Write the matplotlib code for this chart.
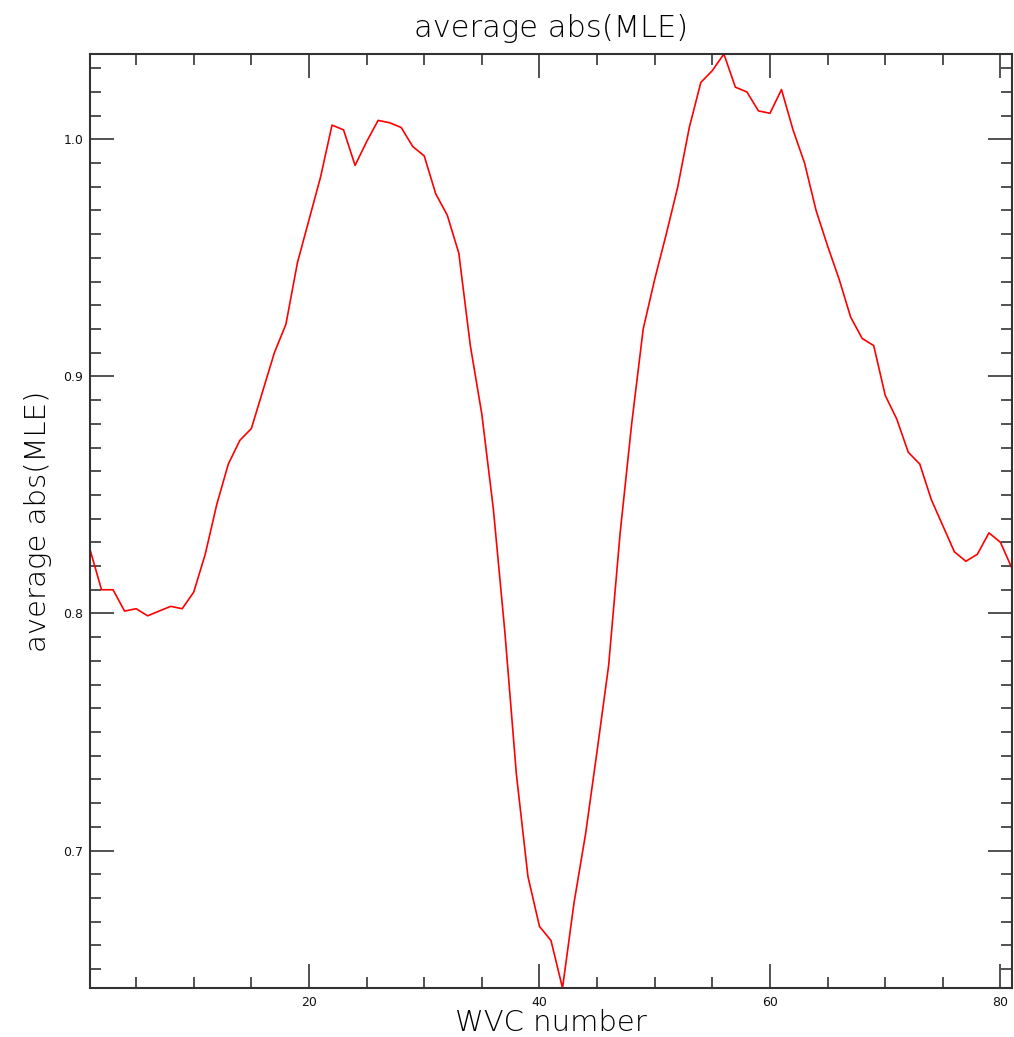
import matplotlib
matplotlib.use("Agg")
import matplotlib.pyplot as plt
from matplotlib.ticker import MultipleLocator, FixedLocator
import numpy as np

wvc = list(range(1, 82))
mle = [0.827, 0.810, 0.810, 0.801, 0.802, 0.799, 0.801, 0.803, 0.802, 0.809,
       0.825, 0.846, 0.863, 0.873, 0.878, 0.894, 0.910, 0.922, 0.948, 0.966,
       0.984, 1.006, 1.004, 0.989, 0.999, 1.008, 1.007, 1.005, 0.997, 0.993,
       0.977, 0.968, 0.952, 0.913, 0.884, 0.844, 0.792, 0.732, 0.689, 0.668,
       0.662, 0.642, 0.678, 0.707, 0.742, 0.778, 0.834, 0.880, 0.920, 0.941,
       0.960, 0.980, 1.005, 1.024, 1.029, 1.036, 1.022, 1.020, 1.012, 1.011,
       1.021, 1.004, 0.990, 0.970, 0.955, 0.941, 0.925, 0.916, 0.913, 0.892,
       0.882, 0.868, 0.863, 0.848, 0.837, 0.826, 0.822, 0.825, 0.834, 0.830,
       0.819]
xticks = [20, 40, 60, 80]
yticks = [0.7, 0.8, 0.9, 1.0]
ytick_labels = ["0.7", "0.8", "0.9", "1.0"]

W, H = 1014, 1037
fig = plt.figure(figsize=(W / 100, H / 100), dpi=100)
ax = fig.add_axes([90 / W, 49 / H, (1012 - 90) / W, (988 - 54) / H])

ax.plot(wvc, mle, color="#ff0000", lw=1.2)
ax.set_xlim(min(wvc), max(wvc))
ax.set_ylim(min(mle), max(mle))

ax.xaxis.set_major_locator(FixedLocator(xticks))
ax.xaxis.set_minor_locator(MultipleLocator(5))
ax.yaxis.set_major_locator(FixedLocator(yticks))
ax.set_yticklabels(ytick_labels)
ax.yaxis.set_minor_locator(MultipleLocator(0.01))

ax.tick_params(which="both", direction="in", top=True, right=True, colors="#333333",
               labelcolor="#111111", labelsize=9)
ax.tick_params(which="major", length=17, width=1.2)
ax.tick_params(which="minor", length=8, width=1.2)
ax.tick_params(axis="x", pad=6)
ax.tick_params(axis="y", pad=5)
for s in ax.spines.values():
    s.set_color("#333333")
    s.set_linewidth(1.5)

ax.set_title("average abs(MLE)", fontsize=22, color="#000000", pad=12, fontweight="light")
ax.set_xlabel("WVC number", fontsize=21, color="#000000", labelpad=0, fontweight="light")
ax.set_ylabel("average abs(MLE)", fontsize=21, color="#000000", labelpad=8, fontweight="light")

fig.savefig("out.png", dpi=100, facecolor="white")
